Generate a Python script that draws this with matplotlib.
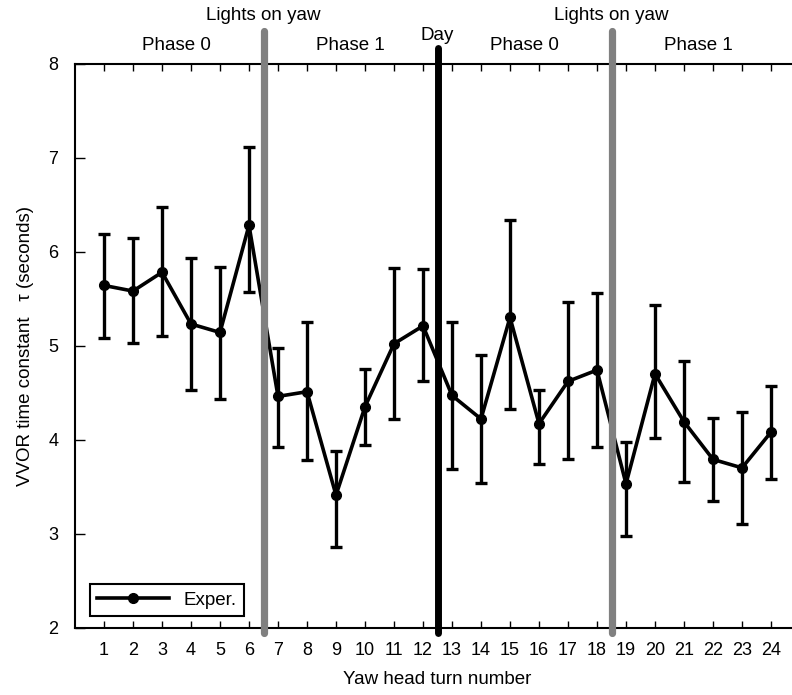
import matplotlib
matplotlib.use("Agg")
import matplotlib.pyplot as plt
import numpy as np

plt.rcParams['font.family'] = ['Liberation Sans', 'DejaVu Sans']

# turn numbers and tau means with error bar ends
turns = list(range(1, 25))
tau = [5.64, 5.58, 5.78, 5.23, 5.14, 6.28, 4.46, 4.51, 3.41, 4.35, 5.02, 5.21,
       4.47, 4.22, 5.30, 4.17, 4.62, 4.74, 3.53, 4.70, 4.19, 3.79, 3.70, 4.08]
upper = [6.19, 6.14, 6.47, 5.93, 5.84, 7.11, 4.97, 5.25, 3.88, 4.75, 5.83, 5.81,
         5.25, 4.90, 6.34, 4.53, 5.46, 5.56, 3.97, 5.43, 4.84, 4.23, 4.29, 4.57]
lower = [5.08, 5.03, 5.10, 4.53, 4.43, 5.57, 3.92, 3.78, 2.86, 3.94, 4.22, 4.62,
         3.69, 3.54, 4.33, 3.74, 3.79, 3.92, 2.98, 4.02, 3.55, 3.35, 3.10, 3.58]

switch_light = [6.5, 18.5]
switch_day = 12.5
phase_x = [3.5, 9.5, 15.5, 21.5]
phase_names = ["Phase 0", "Phase 1", "Phase 0", "Phase 1"]

fs = 13.5

fig = plt.figure(figsize=(7.92, 6.95), dpi=100)
ax = fig.add_axes([0.0947, 0.0968, 0.9154, 0.8118])

tau = np.array(tau)
yerr = [tau - np.array(lower), np.array(upper) - tau]
ax.errorbar(turns, tau, yerr=yerr, color='black', lw=2.6, fmt='none',
            capsize=4.5, capthick=2.4, elinewidth=2.4, zorder=3)
ax.plot(turns, tau, color='black', lw=2.6, marker='o', ms=7, label='Exper.',
        zorder=3)

# condition switches
for xs in switch_light:
    ax.plot([xs, xs], [1.94, 8.35], color='#808080', lw=5.2, solid_capstyle='round',
            clip_on=False, zorder=4)
    ax.text(xs, 8.51, "Lights on yaw", ha='center', va='center', fontsize=fs,
            clip_on=False)
ax.plot([switch_day, switch_day], [1.94, 8.165], color='black', lw=5,
        solid_capstyle='round', clip_on=False, zorder=4)
ax.text(switch_day, 8.3, "Day", ha='center', va='center', fontsize=fs)
for px, name in zip(phase_x, phase_names):
    ax.text(px, 8.19, name, ha='center', va='center', fontsize=fs)

ax.set_xlim(0, 25)
ax.set_ylim(2, 8)
ax.set_xticks(turns)
ax.set_yticks(range(2, 9))
ax.tick_params(axis='x', direction='in', length=5, width=1, top=True,
               labelsize=13, pad=10)
ax.tick_params(axis='y', direction='in', length=7, width=1, labelsize=13, pad=12)
for s in ax.spines.values():
    s.set_linewidth(1.5)

ax.set_xlabel("Yaw head turn number", fontsize=fs, labelpad=9)
ax.set_ylabel("VVOR time constant   \u03c4 (seconds)", fontsize=fs, labelpad=10)

leg = ax.legend(loc='lower left', fontsize=fs, fancybox=False, edgecolor='black',
                framealpha=1, handlelength=3.8, borderaxespad=0.6,
                bbox_to_anchor=(0.005, 0.0))
leg.get_frame().set_linewidth(1.5)

fig.savefig("out.png", dpi=100)
